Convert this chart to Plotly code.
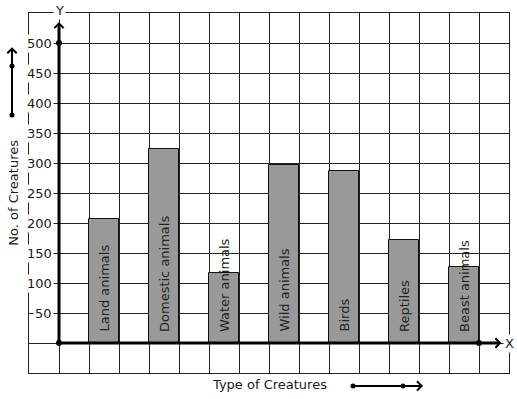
import plotly.graph_objects as go

categories = ["Land animals", "Domestic animals", "Water animals", "Wild animals",
              "Birds", "Reptiles", "Beast animals"]
values = [206, 323, 116, 296, 287, 171, 126]
y_tick_values = [50, 100, 150, 200, 250, 300, 350, 400, 450, 500]

positions = [1.5 + 2 * i for i in range(len(categories))]

FONT = "DejaVu Sans"
GRID = "#222222"
TXT = "#1a1a1a"

fig = go.Figure()
fig.add_trace(go.Bar(
    x=positions, y=values, width=1,
    marker=dict(color="#999999", line=dict(color="#111111", width=1)),
    hoverinfo="skip", showlegend=False,
))

# dots on the axes
fig.add_trace(go.Scatter(
    x=[0, 0, 14], y=[0, 500, 0], mode="markers",
    marker=dict(color="black", size=6), showlegend=False, hoverinfo="skip",
    cliponaxis=False,
))

ann = []
# tick labels
for v in y_tick_values:
    ann.append(dict(x=0, y=v, xref="x", yref="y", text=str(v), showarrow=False,
                    xanchor="right", yanchor="middle", xshift=-5, bgcolor="white",
                    borderpad=1, font=dict(family=FONT, size=13, color=TXT)))
# bar labels
for p, c in zip(positions, categories):
    ann.append(dict(x=p, y=0, xref="x", yref="y", text=c, showarrow=False,
                    textangle=-90, xanchor="center", yanchor="bottom", yshift=9,
                    font=dict(family=FONT, size=13, color="#222222")))
# axis arrows
ann.append(dict(x=0, y=535, ax=0, ay=0, xref="x", yref="y", axref="x", ayref="y",
                text="", showarrow=True, arrowhead=4, arrowwidth=3, arrowsize=0.6,
                arrowcolor="black"))
ann.append(dict(x=14.75, y=0, ax=0, ay=0, xref="x", yref="y", axref="x", ayref="y",
                text="", showarrow=True, arrowhead=4, arrowwidth=3, arrowsize=0.6,
                arrowcolor="black"))
# axis letters
ann.append(dict(x=0, y=550, xref="x", yref="y", text="Y", showarrow=False,
                bgcolor="white", yshift=3, font=dict(family=FONT, size=13, color=TXT)))
ann.append(dict(x=15, y=0, xref="x", yref="y", text="X", showarrow=False,
                bgcolor="white", font=dict(family=FONT, size=13, color=TXT)))
# axis titles
ann.append(dict(x=-0.034, y=0.5, xref="paper", yref="paper", text="No. of Creatures",
                showarrow=False, textangle=-90, xanchor="center", yanchor="middle",
                font=dict(family=FONT, size=13, color=TXT)))
ann.append(dict(x=0.5, y=-0.033, xref="paper", yref="paper", text="Type of Creatures",
                showarrow=False, xanchor="center", yanchor="middle",
                font=dict(family=FONT, size=13, color=TXT)))
# decorative side arrows
ann.append(dict(x=-0.0354, y=0.905, xref="paper", yref="paper", ax=0, ay=70,
                text="", showarrow=True, arrowhead=4, arrowwidth=2, arrowsize=0.9,
                arrowcolor="black"))
ann.append(dict(x=0.821, y=-0.036, xref="paper", yref="paper", ax=-70, ay=0,
                text="", showarrow=True, arrowhead=4, arrowwidth=2, arrowsize=0.9,
                arrowcolor="black"))

shapes = []
for (px, py) in [(-0.0354, 0.7167), (-0.0354, 0.853), (0.675, -0.036), (0.779, -0.036)]:
    shapes.append(dict(type="circle", xref="paper", yref="paper", xsizemode="pixel",
                       ysizemode="pixel", xanchor=px, yanchor=py, x0=-2.5, x1=2.5,
                       y0=-2.5, y1=2.5, fillcolor="black", line=dict(width=0)))

fig.update_layout(
    width=517, height=399,
    margin=dict(l=29, r=8, t=13, b=26),
    paper_bgcolor="white", plot_bgcolor="white",
    xaxis=dict(range=[-1, 15], dtick=1, tick0=0, showgrid=True, gridcolor=GRID,
               gridwidth=1, zeroline=False, showticklabels=False, ticks="",
               showline=True, mirror=True, linecolor=GRID, linewidth=1,
               fixedrange=True),
    yaxis=dict(range=[-50, 550], dtick=50, tick0=0, showgrid=True, gridcolor=GRID,
               gridwidth=1, zeroline=False, showticklabels=False, ticks="",
               showline=True, mirror=True, linecolor=GRID, linewidth=1,
               fixedrange=True),
    annotations=ann, shapes=shapes,
    bargap=0, showlegend=False,
)

fig.write_html("out.html", config={"displayModeBar": False},
               post_script="document.body.style.margin='0';document.body.style.overflow='hidden';")
